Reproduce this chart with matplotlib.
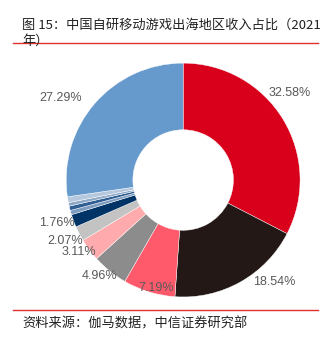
import matplotlib
matplotlib.use("Agg")
import matplotlib.pyplot as plt
import matplotlib.lines as mlines
import numpy as np

plt.rcParams["font.family"] = ["Noto Sans CJK SC", "DejaVu Sans"]

# 数据（顺时针，从12点方向开始）
shares = [32.58, 18.54, 7.19, 4.96, 3.11, 2.07, 1.76, 0.6, 0.6, 0.5, 0.8, 27.29]
labels = ["32.58%", "18.54%", "7.19%", "4.96%", "3.11%", "2.07%", "1.76%",
          "", "", "", "", "27.29%"]
colors = ["#D8001A", "#231815", "#FF5A6C", "#8C8C8C", "#FFABAE", "#C3C3C3",
          "#003366", "#7F9DC0", "#2E5E94", "#90AAC8", "#B5C8DD", "#6699CC"]

# 标签位置微调：半径、相对扇区中线的角度偏移（度）
label_r = [1.18, 1.17, 0.95, 1.09, 1.08, 1.14, 1.14, 1, 1, 1, 1, 1.26]
label_da = [8, 12.5, 3, -2, -2, 0, -1.6, 0, 0, 0, 0, 7]

TITLE = "图 15：中国自研移动游戏出海地区收入占比（2021\n年）"
SOURCE = "资料来源：伽马数据，中信证券研究部"

fig = plt.figure(figsize=(3.23, 3.41), dpi=100)

ax = fig.add_axes([0.567 - 0.362, 0.472 - 0.343, 0.724, 0.686])
wedges, texts = ax.pie(shares, labels=labels, colors=colors, startangle=90,
                       counterclock=False,
                       wedgeprops=dict(width=0.57, edgecolor="white", linewidth=0.3),
                       textprops=dict(color="#595959", fontsize=9,
                                      family=["Liberation Sans", "DejaVu Sans"]))
for w, t, r, da in zip(wedges, texts, label_r, label_da):
    mid = np.deg2rad((w.theta1 + w.theta2) / 2 + da)
    t.set_position((r * np.cos(mid), r * np.sin(mid)))
    t.set_ha("center")
    t.set_va("center")
ax.set_xlim(-1, 1)
ax.set_ylim(-1, 1)
ax.set_aspect("equal")

fig.text(0.068, 0.945, TITLE, fontsize=9.5, va="top", ha="left",
         color="#222222", linespacing=1.3)
fig.add_artist(mlines.Line2D([0.04, 0.985], [0.873, 0.873], color="#E03030", lw=1))
fig.add_artist(mlines.Line2D([0.04, 0.985], [0.091, 0.091], color="#E03030", lw=1))
fig.text(0.068, 0.05, SOURCE, fontsize=9.5, va="center", ha="left", color="#222222")

fig.savefig("out.png", dpi=100)
